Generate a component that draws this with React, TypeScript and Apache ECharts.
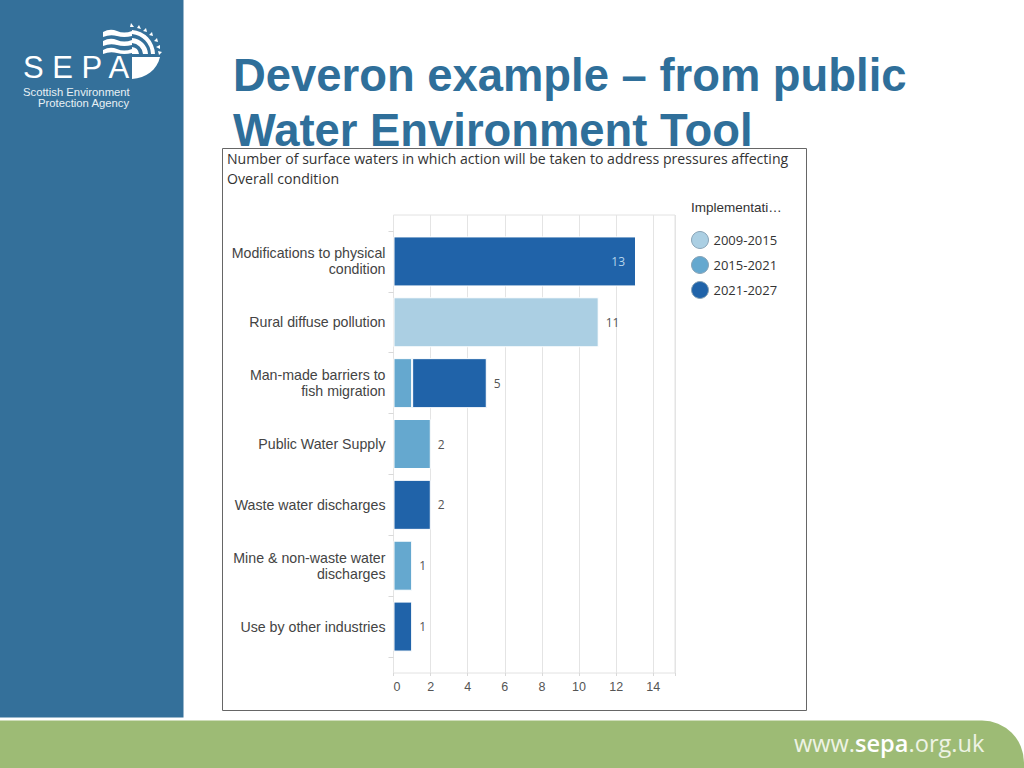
import React, { useEffect, useRef } from 'react';
import * as echarts from 'echarts';

const categories = [
  'Modifications to physical\ncondition',
  'Rural diffuse pollution',
  'Man-made barriers to\nfish migration',
  'Public Water Supply',
  'Waste water discharges',
  'Mine & non-waste water\ndischarges',
  'Use by other industries',
];
const legendNames = ['2009-2015', '2015-2021', '2021-2027'];
const period1 = [null, 11, null, null, null, null, null];
const period2 = [null, null, 1, 2, null, 1, null];
const period3 = [13, null, 4, null, 2, null, 1];
const totals = [13, 11, 5, 2, 2, 1, 1];
const colors = ['#abcfe3', '#65a8cf', '#2063a9'];

const slideBlue = '#34709a';
const textFont = '"Open Sans", sans-serif';
const axisFont = '"Liberation Sans", Arial, sans-serif';

echarts.graphic.registerShape(
  'sepaWaves',
  echarts.graphic.extendPath(
    'M103 32 Q110 28 117 31 T132 31 L132 36 Q124 38 117 36 T103 37 Z ' +
      'M103 41 Q110 37 117 40 T132 40 L132 45 Q124 47 117 45 T103 46 Z ' +
      'M103 50 Q110 46 117 49 T132 49 L132 53 Q124 55 117 53 T103 54 Z',
    {}
  )
);
echarts.graphic.registerShape(
  'sepaArcs',
  echarts.graphic.extendPath(
    'M132 30 A25 25 0 0 1 155 54 L151 54 A21 21 0 0 0 132 34 Z ' +
      'M132 38 A17 17 0 0 1 148 54 L143 54 A12 12 0 0 0 132 43 Z ' +
      'M132 47 A8 8 0 0 1 139 54 L132 54 Z',
    {}
  )
);
echarts.graphic.registerShape(
  'sepaDisc',
  echarts.graphic.extendPath('M132 57 L160 57 C157 70 146 78 132 79 Z', {})
);
echarts.graphic.registerShape(
  'sepaRays',
  echarts.graphic.extendPath(
    'M131 23 L134 27 L130 27 Z M139 25 L141 29 L137 28 Z M146 28 L147 32 L143 31 Z ' +
      'M152 32 L153 36 L149 35 Z M157 38 L158 42 L154 41 Z M160 45 L160 49 L156 47 Z M162 52 L159 55 L158 51 Z',
    {}
  )
);

const App: React.FC = () => {
  const chartRef = useRef<HTMLDivElement>(null);

  useEffect(() => {
    if (!chartRef.current) return;
    document.body.style.margin = '0';

    const chart = echarts.init(chartRef.current, undefined, { renderer: 'svg' });

    // the total goes on the last segment of each bar
    const lastPeriod = (i: number) => (period3[i] !== null ? 2 : period2[i] !== null ? 1 : 0);

    const barData = (values: (number | null)[], period: number) =>
      values.map((value, i) => {
        if (value === null) return null;
        if (lastPeriod(i) !== period) return { value };
        if (totals[i] === 13) {
          return {
            value,
            label: { show: true, position: 'insideRight', distance: 11, color: '#b5d4ea', formatter: () => `${totals[i]}` },
          };
        }
        return { value, label: { show: true, formatter: () => `${totals[i]}` } };
      });

    const makeSeries = (name: string, color: string, data: any[]) => ({
      name,
      type: 'bar',
      stack: 'total',
      barWidth: 50,
      xAxisIndex: 0,
      yAxisIndex: 0,
      data,
      itemStyle: { color, borderColor: '#ffffff', borderWidth: 1 },
      label: { position: 'right', distance: 7, color: '#555555', fontFamily: textFont, fontSize: 12 },
    });

    const option = {
      animation: false,
      backgroundColor: '#ffffff',
      textStyle: { fontFamily: axisFont },
      legend: {
        left: 686,
        top: 226,
        orient: 'vertical',
        icon: 'circle',
        itemWidth: 17,
        itemHeight: 17,
        itemGap: 7,
        selectedMode: false,
        data: legendNames.map((name, i) => ({
          name,
          itemStyle: { color: colors[i], borderColor: '#8aa5b8', borderWidth: 1 },
        })),
        textStyle: { fontFamily: textFont, fontSize: 13, color: '#333333' },
      },
      grid: [
        { left: 393.5, top: 231, width: 281.5, height: 426, containLabel: false },
        { left: 393.5, top: 215, width: 281.5, height: 458, show: true, borderColor: '#e2e2e2', borderWidth: 1 },
      ],
      xAxis: [
        { type: 'value', gridIndex: 0, min: 0, max: 15.09, show: false },
        {
          type: 'value',
          gridIndex: 1,
          min: 0,
          max: 15.17,
          interval: 2,
          axisLine: { show: false },
          axisTick: { show: true, length: 3, lineStyle: { color: '#d9d9d9' } },
          splitLine: { show: true, lineStyle: { color: '#e4e4e4' } },
          axisLabel: {
            color: '#555555',
            fontFamily: axisFont,
            fontSize: 12.5,
            margin: 7,
            alignMinLabel: 'left',
            formatter: (value: number) => (value > 14 ? '' : `${value}`),
          },
        },
      ],
      yAxis: [
        {
          type: 'category',
          gridIndex: 0,
          inverse: true,
          data: categories,
          axisLine: { show: false },
          axisTick: { show: true, length: 5, lineStyle: { color: '#d9d9d9' } },
          axisLabel: {
            color: '#444444',
            fontFamily: axisFont,
            fontSize: 14.2,
            lineHeight: 16,
            margin: 8,
            align: 'right',
          },
        },
        { type: 'value', gridIndex: 1, min: 0, max: 1, show: false },
      ],
      series: [
        makeSeries(legendNames[0], colors[0], barData(period1, 0)),
        makeSeries(legendNames[1], colors[1], barData(period2, 1)),
        makeSeries(legendNames[2], colors[2], barData(period3, 2)),
      ],
      graphic: {
        elements: [
          { type: 'text', z: -3, silent: true, left: 233, top: 53, style: { text: 'Deveron example – from public', font: 'bold 45.4px "Liberation Sans", Arial, sans-serif', fill: '#2f6f9a' } },
          { type: 'text', z: -3, silent: true, left: 233, top: 108, style: { text: 'Water Environment Tool', font: 'bold 45.4px "Liberation Sans", Arial, sans-serif', fill: '#2f6f9a' } },
          { type: 'rect', z: -2, silent: true, shape: { x: 222.5, y: 148.5, width: 584, height: 562 }, style: { fill: '#ffffff', stroke: '#666666', lineWidth: 1 } },
          { type: 'text', silent: true, left: 227, top: 151, style: { text: 'Number of surface waters in which action will be taken to address pressures affecting', font: '14.1px "Open Sans", sans-serif', fill: '#333333' } },
          { type: 'text', silent: true, left: 227, top: 171, style: { text: 'Overall condition', font: '14.1px "Open Sans", sans-serif', fill: '#333333' } },
          { type: 'text', silent: true, left: 691, top: 200, style: { text: 'Implementati…', font: '13.5px "Liberation Sans", Arial, sans-serif', fill: '#333333' } },

          { type: 'rect', silent: true, shape: { x: 0, y: 0, width: 183.5, height: 717.5 }, style: { fill: slideBlue } },
          { type: 'rect', silent: true, shape: { x: 0, y: 720.5, width: 1024, height: 48, r: [0, 42, 0, 0] }, style: { fill: '#9dbb75' } },
          { type: 'sepaWaves', silent: true, style: { fill: '#ffffff' } },
          { type: 'sepaArcs', silent: true, style: { fill: '#ffffff' } },
          { type: 'sepaDisc', silent: true, style: { fill: '#ffffff' } },
          { type: 'sepaRays', silent: true, style: { fill: '#ffffff' } },
          { type: 'text', silent: true, left: 23, top: 52, style: { text: 'S E P A', font: '31px "Liberation Sans", Arial, sans-serif', fill: '#ffffff' } },
          { type: 'text', silent: true, left: 23, top: 86, style: { text: 'Scottish Environment', font: '11.3px "Liberation Sans", Arial, sans-serif', fill: '#e8f0f5' } },
          { type: 'text', silent: true, left: 38, top: 97.5, style: { text: 'Protection Agency', font: '11.3px "Liberation Sans", Arial, sans-serif', fill: '#e8f0f5' } },
          {
            type: 'text',
            silent: true,
            left: 794,
            top: 731,
            style: {
              text: 'www.{b|sepa}.org.uk',
              font: '23.6px "Open Sans", sans-serif',
              fill: '#eef3e4',
              rich: { b: { font: '600 23.6px "Open Sans", sans-serif', fill: '#ffffff' } },
            },
          },
        ],
      },
    };

    chart.setOption(option as any);

    return () => {
      chart.dispose();
    };
  }, []);

  return <div ref={chartRef} style={{ position: 'absolute', left: 0, top: 0, width: 1024, height: 768 }} />;
};

export default App;
